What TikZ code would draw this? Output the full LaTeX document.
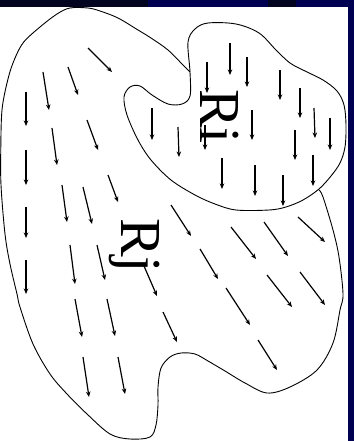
\documentclass[tikz,border=0pt]{standalone}
\usepackage{fontspec}
\setmainfont{Liberation Serif}
\usetikzlibrary{arrows.meta}
\definecolor{navy}{RGB}{0,0,82}
\definecolor{darknavy}{RGB}{3,5,32}
\begin{document}
\begin{tikzpicture}[x=1pt,y=-1pt,
  bound/.style={line width=0.9pt, black},
  vec/.style={line width=1.2pt, black, -{Stealth[length=5.5pt,width=4.5pt]}},
  lbl/.style={font=\fontsize{58}{58}\selectfont, inner sep=0pt, rotate=-90, anchor=base west}]
\useasboundingbox (0,0) rectangle (354,441);
\fill[white] (0,0) rectangle (354,441);
% frame strips
\fill[darknavy] (0,0) rectangle (148,7.5);
\fill[navy] (148,0) rectangle (268,7.5);
\fill[darknavy] (268,0) rectangle (296,7.5);
\fill[navy] (296,0) rectangle (354,7.5);
\fill[navy] (347.5,0) rectangle (354,441);
% region Ri
\draw[bound] plot[smooth cycle, tension=0.55] coordinates {
 (188,42) (195,29) (208,23) (236,24) (259,33) (276,50) (290,63) (305,71)
 (323,80) (337,91) (344,105) (346,125) (345,147) (340,163) (331,176)
 (319,189) (303,200) (286,207) (269,210) (236,210) (215,204) (195,195)
 (171,180) (151,160) (138,140) (127,115) (124,97) (130,87) (140,86)
 (152,95) (168,104) (182,104) (190,96) (190,72)};
% region Rj outer boundary
\draw[bound] plot[smooth, tension=0.55] coordinates {
 (190,72) (183,65) (168,50) (151,38) (138,30) (118,18) (100,11) (88,8)
 (70,8) (57,14) (40,27) (23,43) (13,63) (7,83) (2,110) (0.8,147) (1,185)
 (5,234) (10,264) (17,294) (20,307) (33,344) (50,374) (67,394) (87,414)
 (110,434) (130,439) (150,437) (156,425) (158,405) (158,387) (161,368)
 (170,357) (181,353) (195,354) (208,361) (225,371) (245,383) (267,393)
 (290,387) (317,370) (333,343) (340,310) (343,294) (339,257) (333,230)
 (323,197) (319,190)};
% vectors in Ri
\foreach \a/\b/\c/\d in {230/43/230/75, 247/57/247/87, 207/62/207/93,
  280/70/280/100, 300/88/300/118, 314/108/315/138, 330/118/330/150,
  152/108/152/140, 178/127/179/157, 205/125/205/150, 252/110/252/140,
  295/130/295/160, 313/155/313/186, 222/158/222/189, 255/165/255/196,
  283/175/283/206}
  \draw[vec] (\a,\b) -- (\c,\d);
% vectors in Rj
\foreach \a/\b/\c/\d in {88/48/112/72, 68/67/78/95, 43/72/49/110,
  26/92/26/126, 87/120/98/150, 52/128/57/165, 26/150/26/185,
  62/185/67/222, 83/187/92/224, 108/175/118/202, 26/207/26/238,
  70/245/75/284, 97/245/105/280, 26/260/26/294, 75/299/82/337,
  107/299/115/336, 83/357/89/397, 118/357/125/394, 171/205/191/236,
  200/249/218/279, 144/266/157/296, 163/312/177/342, 231/227/256/259,
  264/222/288/256, 298/217/325/242, 267/275/292/307, 300/272/325/305,
  226/288/250/325, 258/340/277/370}
  \draw[vec] (\a,\b) -- (\c,\d);
% labels
\node[lbl] (ri) at (200,89) {Ri};
\node[lbl] (rj) at (121,218) {Rj};
\end{tikzpicture}
\end{document}
